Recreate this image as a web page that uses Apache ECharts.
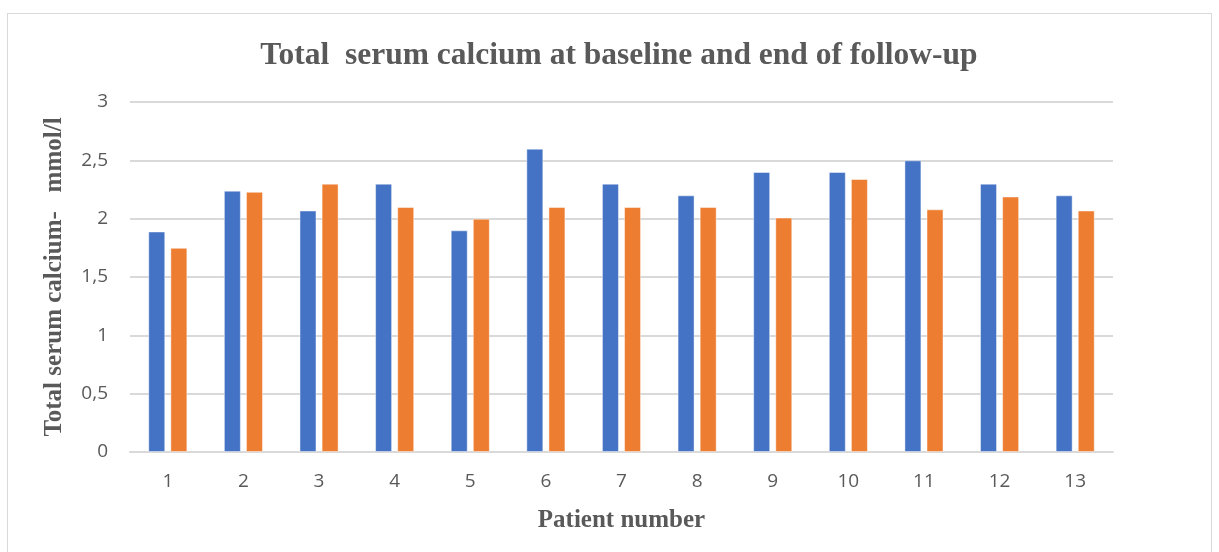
<!DOCTYPE html>
<html>
<head>
<meta charset="utf-8">
<script src="https://cdn.jsdelivr.net/npm/echarts@6/dist/echarts.min.js"></script>
<style>
  html, body { margin: 0; padding: 0; background: #fff; }
  #frame {
    position: absolute; left: 7px; top: 13px; width: 1205px; height: 560px;
    border: 1px solid #d9d9d9; box-sizing: border-box;
  }
  #chart { position: absolute; left: 0; top: 0; width: 1219px; height: 552px; }
</style>
</head>
<body>
<div id="frame"></div>
<div id="chart"></div>
<script>
// Patient numbers on the x axis
const patients = ['1','2','3','4','5','6','7','8','9','10','11','12','13'];
// Total serum calcium (mmol/l) at baseline
const baseline = [1.89, 2.24, 2.07, 2.30, 1.90, 2.60, 2.30, 2.20, 2.40, 2.40, 2.50, 2.30, 2.20];
// Total serum calcium (mmol/l) at end of follow-up
const followUp = [1.75, 2.23, 2.30, 2.10, 2.00, 2.10, 2.10, 2.10, 2.01, 2.34, 2.08, 2.19, 2.07];

const grey = '#595959';
const serif = '"Liberation Serif", "Times New Roman", serif';
const sans = '"Open Sans", "Noto Sans", sans-serif';

const chart = echarts.init(document.getElementById('chart'), null, { renderer: 'canvas' });
chart.setOption({
  animation: false,
  title: {
    text: 'Total  serum calcium at baseline and end of follow-up',
    left: 614, top: 35, textAlign: 'center',
    textStyle: { fontFamily: serif, fontWeight: 'bold', fontSize: 31.5, color: grey }
  },
  grid: { left: 130, right: 106, top: 102, bottom: 100, containLabel: false },
  xAxis: {
    type: 'category',
    data: patients,
    name: 'Patient number',
    nameLocation: 'middle',
    nameGap: 56,
    nameTextStyle: { fontFamily: serif, fontWeight: 'bold', fontSize: 25, color: grey },
    axisLine: { show: true, lineStyle: { color: '#d9d9d9', width: 2 } },
    axisTick: { show: false },
    axisLabel: { fontFamily: sans, fontSize: 19, color: grey, margin: 20 }
  },
  yAxis: {
    type: 'value',
    min: 0, max: 3, interval: 0.5,
    name: 'Total serum calcium-   mmol/l',
    nameLocation: 'middle',
    nameGap: 63,
    nameTextStyle: { fontFamily: serif, fontWeight: 'bold', fontSize: 25, color: grey },
    axisLine: { show: false },
    axisTick: { show: false },
    axisLabel: {
      fontFamily: sans, fontSize: 19, color: grey, margin: 22,
      formatter: v => String(v).replace('.', ',')
    },
    splitLine: { lineStyle: { color: '#d9d9d9', width: 2 } }
  },
  series: [
    {
      name: 'Baseline', type: 'bar', data: baseline,
      barWidth: 17, barGap: '30%',
      itemStyle: { color: '#4472C4', borderColor: 'rgba(255,255,255,0.45)', borderWidth: 1 }
    },
    {
      name: 'End of follow-up', type: 'bar', data: followUp,
      barWidth: 17,
      itemStyle: { color: '#ED7D31', borderColor: 'rgba(255,255,255,0.45)', borderWidth: 1 }
    }
  ]
});
</script>
</body>
</html>
